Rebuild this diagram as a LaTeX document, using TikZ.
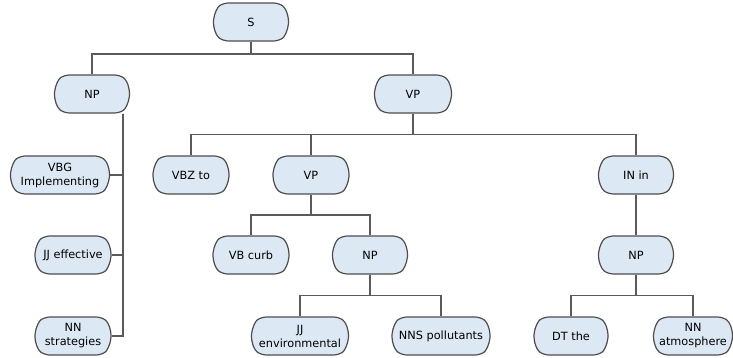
\documentclass[tikz,border=0pt]{standalone}
\usepackage{fontspec}
\setmainfont{DejaVu Sans}
\usetikzlibrary{shapes.misc,calc}
\definecolor{nodefill}{RGB}{221,232,245}
\definecolor{nodeline}{RGB}{77,77,77}
\definecolor{wire}{RGB}{90,90,90}
\tikzset{
  tn/.style={rounded rectangle, rounded rectangle arc length=110, rounded corners=5pt,
    draw=nodeline, fill=nodefill, line width=1.2pt, minimum height=38pt, minimum width=#1,
    inner xsep=1pt, inner ysep=1pt, align=center,
    font=\fontsize{11.3}{14}\selectfont},
  tn/.default=77pt,
  wires/.style={draw=wire, line width=1.3pt},
  tree/.style={to path={(\tikztostart.south) |- ($(\tikztostart.south)!#1!(\tikztotarget.north)$) -| (\tikztotarget.north)}},
  tree/.default=0.5
}
\begin{document}
\begin{tikzpicture}[x=1pt,y=1pt]
\useasboundingbox (0,0) rectangle (733,-358);
% nodes
\node[tn] (S) at (251,-22) {S};
\node[tn] (NPa) at (92,-94) {NP};
\node[tn=79pt] (VPa) at (413,-94) {VP};
\node[tn=101pt] (VBG) at (60,-175) {VBG\\Implementing};
\node[tn=78pt] (VBZ) at (191,-175) {VBZ to};
\node[tn=78pt] (VPb) at (311,-175) {VP};
\node[tn] (IN) at (636,-175) {IN in};
\node[tn=78pt] (JJe) at (73,-255) {JJ effective};
\node[tn=78pt] (VB) at (251,-255) {VB curb};
\node[tn] (NPb) at (370,-255) {NP};
\node[tn] (NPc) at (636,-255) {NP};
\node[tn=78pt] (NNs) at (73,-336) {NN\\strategies};
\node[tn=99pt] (JJv) at (300,-336) {JJ\\environmental};
\node[tn=100pt] (NNS) at (441,-336) {NNS pollutants};
\node[tn=76pt] (DT) at (571,-336) {DT the};
\node[tn=81pt] (NNa) at (693,-336) {NN\\atmosphere};
% connectors
\begin{scope}[wires]
\draw (S) to[tree=0.38] (NPa);
\draw (S) to[tree=0.38] (VPa);
\draw (VPa) to[tree] (VBZ);
\draw (VPa) to[tree] (VPb);
\draw (VPa) to[tree] (IN);
\draw (VPb) to[tree] (VB);
\draw (VPb) to[tree] (NPb);
\draw (NPb) to[tree] (JJv);
\draw (NPb) to[tree] (NNS);
\draw (IN) to[tree] (NPc);
\draw (NPc) to[tree] (DT);
\draw (NPc) to[tree] (NNa);
\draw ([xshift=31pt]NPa.south) |- (VBG.east);
\draw ([xshift=31pt]NPa.south) |- (JJe.east);
\draw ([xshift=31pt]NPa.south) |- (NNs.east);
\end{scope}
\end{tikzpicture}
\end{document}
